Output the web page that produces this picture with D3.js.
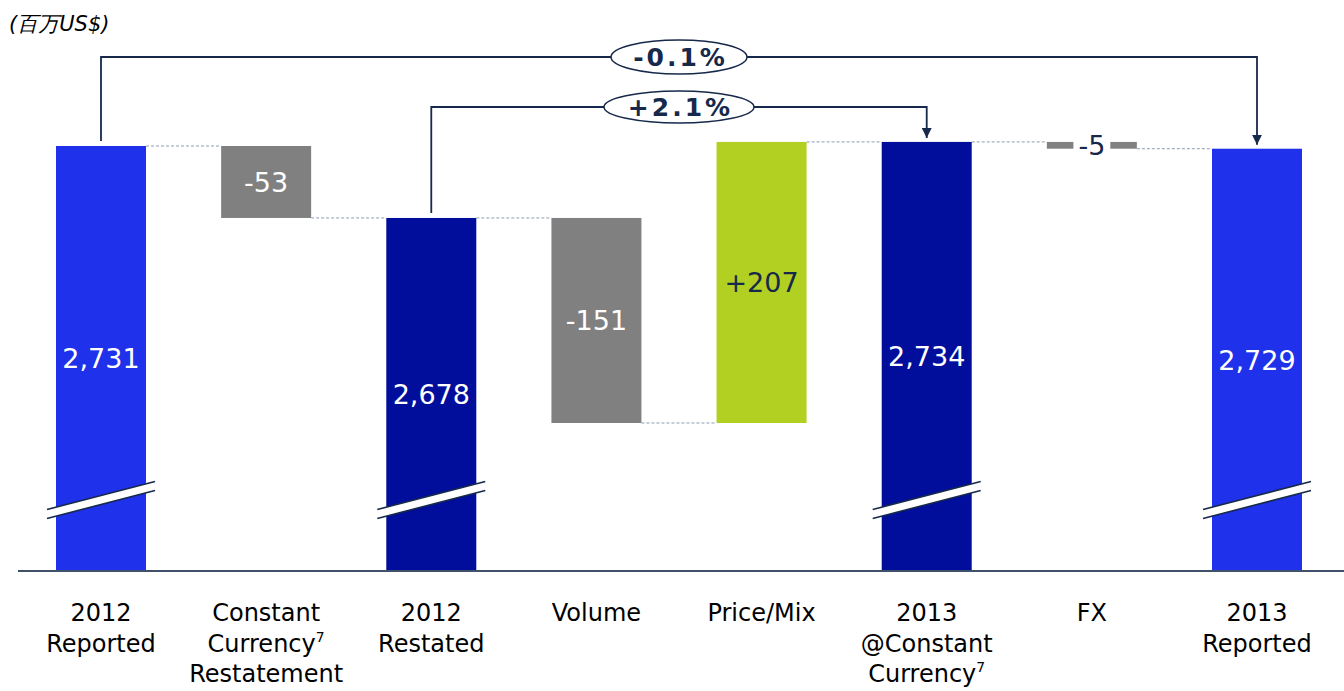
<!DOCTYPE html>
<html><head><meta charset="utf-8">
<script src="https://cdn.jsdelivr.net/npm/d3@7/dist/d3.min.js"></script>
<style>
html,body{margin:0;padding:0;background:#fff;}
svg{display:block;font-family:"DejaVu Sans",Verdana,sans-serif;}
</style></head>
<body><svg id="chart" width="1344" height="691"></svg>
<script>
// ---- data ----
const categories = ["2012 Reported","Constant Currency Restatement","2012 Restated","Volume","Price/Mix","2013 @Constant Currency","FX","2013 Reported"];
const categoryLines = [["2012","Reported"],["Constant","Currency^7","Restatement"],["2012","Restated"],["Volume"],["Price/Mix"],["2013","@Constant","Currency^7"],["FX"],["2013","Reported"]];
const values = [2731, -53, 2678, -151, 207, 2734, -5, 2729];
const kinds = ["total","delta","subtotal","delta","delta","subtotal","delta","total"];
const valueLabels = ["2,731","-53","2,678","-151","+207","2,734","-5","2,729"];
const axisFloor = 2418;
const unitLabel = "(百万US$)";
const bracketFrom = ["2012 Reported","2012 Restated"];
const bracketTo = ["2013 Reported","2013 @Constant Currency"];
const bracketLabels = ["-0.1%","+2.1%"];

// ---- colors ----
const colors = {total:"#1f31ea", subtotal:"#010e9b", neg:"#808080", pos:"#b1d022"};
const navy = "#17294b";

const svg = d3.select("#chart");
const x = d3.scalePoint().domain(categories).range([101, 1257]);
const y = d3.scaleLinear().domain([axisFloor, 2731]).range([571, 146]);
const barW = 90;

// compute bars
let running = 0;
const bars = categories.map((c,i)=>{
  const v = values[i];
  let lo, hi, color, textColor = "#fff";
  if (kinds[i] !== "delta") { lo = axisFloor; hi = v; running = v; color = kinds[i]==="total"?colors.total:colors.subtotal; }
  else { const start = running; running = start + v; lo = Math.min(start, running); hi = Math.max(start, running); color = v<0?colors.neg:colors.pos; if (v>0) textColor = navy; }
  return {c, i, lo, hi, end: running, color, textColor, kind: kinds[i], label: valueLabels[i]};
});

// connectors
const conn = svg.append("g");
for (let i=0;i<bars.length-1;i++){
  const yv = bars[i].kind==="delta" ? bars[i].end : bars[i].hi;
  conn.append("line")
    .attr("x1", x(bars[i].c)+barW/2).attr("x2", x(bars[i+1].c)-barW/2)
    .attr("y1", y(yv)).attr("y2", y(yv))
    .attr("stroke","#8b9db3").attr("stroke-width",1).attr("stroke-dasharray","3,2");
}

// bars
svg.append("g").selectAll("rect").data(bars).join("rect")
  .attr("x", d=>x(d.c)-barW/2).attr("width", barW)
  .attr("y", d=>y(d.hi)).attr("height", d=>y(d.lo)-y(d.hi))
  .attr("fill", d=>d.color);

// axis line
svg.append("line").attr("x1",18).attr("x2",1344).attr("y1",y(axisFloor)).attr("y2",y(axisFloor))
  .attr("stroke","#3f5269").attr("stroke-width",2);

// break marks on total bars
const brk = svg.append("g");
bars.filter(d=>d.kind!=="delta").forEach(d=>{
  const cx = x(d.c), cy = 500;
  const hw = 54, dy = 14, gap = 9;
  brk.append("path")
    .attr("d", `M${cx-hw},${cy+dy-gap/2} L${cx+hw},${cy-dy-gap/2} L${cx+hw},${cy-dy+gap/2} L${cx-hw},${cy+dy+gap/2} Z`)
    .attr("fill","#fff");
  [-gap/2, gap/2].forEach(o=>{
    brk.append("line").attr("x1",cx-hw).attr("y1",cy+dy+o).attr("x2",cx+hw).attr("y2",cy-dy+o)
      .attr("stroke",navy).attr("stroke-width",1.6);
  });
});

// value labels
const vl = svg.append("g").attr("font-size",27).attr("text-anchor","middle");
bars.forEach(d=>{
  const top = y(d.hi), bot = y(d.lo);
  const cy = (top+bot)/2;
  if (d.kind==="delta" && Math.abs(bot-top) < 20) {
    const t = vl.append("text").attr("x", x(d.c)).attr("y", cy).attr("dy","0.36em").attr("fill", navy).text(d.label);
    const bb = t.node().getBBox();
    vl.insert("rect", "text").attr("x", bb.x-5).attr("y", cy-6).attr("width", bb.width+10).attr("height", 12).attr("fill","#fff");
  } else {
    vl.append("text").attr("x", x(d.c)).attr("y", cy).attr("dy","0.36em").attr("fill", d.textColor).text(d.label);
  }
});

// category labels
const cl = svg.append("g").attr("font-size",24).attr("text-anchor","middle").attr("fill","#000");
categoryLines.forEach((lines,i)=>{
  const cx = x(categories[i]);
  lines.forEach((ln,j)=>{
    const parts = ln.split("^");
    const t = cl.append("text").attr("x", cx).attr("y", 621 + j*30.5);
    t.append("tspan").text(parts[0]);
    if (parts[1]) t.append("tspan").attr("font-size",14).attr("dy",-10).text(parts[1]);
  });
});

// brackets
const defs = svg.append("defs");
defs.append("marker").attr("id","arr").attr("viewBox","0 0 10 10").attr("refX",10).attr("refY",5)
  .attr("markerWidth",10).attr("markerHeight",10).attr("markerUnits","userSpaceOnUse").attr("orient","auto")
  .append("path").attr("d","M0,0 L10,5 L0,10 Z").attr("fill",navy);
const levels = [57, 107];
const ellR = [[68,17],[75,16]];
const br = svg.append("g");
bracketLabels.forEach((lab,k)=>{
  const a = bars[categories.indexOf(bracketFrom[k])], b = bars[categories.indexOf(bracketTo[k])];
  const x1 = x(a.c), x2 = x(b.c), ly = levels[k];
  br.append("path").attr("d", `M${x1},${y(a.hi)-5} V${ly} H${x2} V${y(b.hi)-4}`)
    .attr("fill","none").attr("stroke",navy).attr("stroke-width",1.8).attr("marker-end","url(#arr)");
  const mx = (x1+x2)/2;
  br.append("ellipse").attr("cx",mx).attr("cy",ly).attr("rx",ellR[k][0]).attr("ry",ellR[k][1])
    .attr("fill","#fff").attr("stroke",navy).attr("stroke-width",1.5);
  br.append("text").attr("x",mx+1.5).attr("y",ly).attr("dy","0.36em").attr("text-anchor","middle")
    .attr("font-size",25).attr("font-weight","bold").attr("letter-spacing",3).attr("fill",navy).text(lab);
});

// unit label
svg.append("text").attr("x",9).attr("y",31).attr("font-size",21).attr("font-style","italic").attr("fill","#000").text(unitLabel);
</script></body></html>
